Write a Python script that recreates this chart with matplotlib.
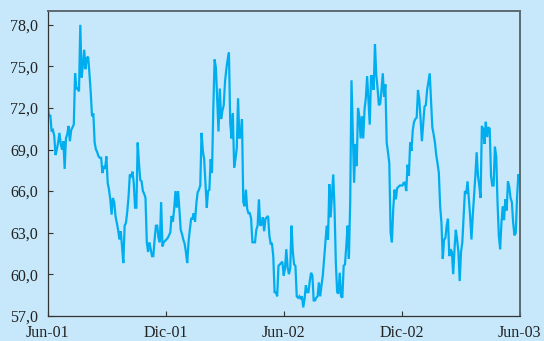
import matplotlib.pyplot as plt
import pandas as pd

plt.rcParams['font.family'] = ['Liberation Serif', 'DejaVu Serif']

inicio = "2001-06-01"
fin = "2003-06-01"
tick_fechas = ["2001-06-01", "2001-12-01", "2002-06-01", "2002-12-01", "2003-06-01"]
tick_labels = ["Jun-01", "Dic-01", "Jun-02", "Dic-02", "Jun-03"]
y_ticks = [57, 60, 63, 66, 69, 72, 75, 78]

# valores, espaciados de forma regular entre inicio y fin
valores = [
    72.1, 71.4, 71.5, 70.3, 70.4, 70.0, 68.6, 69.0, 69.5, 70.2, 69.4, 69.0,
    69.6, 67.6, 69.8, 70.1, 70.7, 69.6, 70.4, 70.6, 70.8, 74.5, 73.4, 73.4,
    73.2, 78.0, 74.2, 75.1, 76.2, 74.8, 75.6, 75.7, 74.5, 73.1, 71.4, 71.6,
    69.5, 69.0, 68.8, 68.5, 68.4, 68.4, 67.3, 67.8, 67.6, 68.5, 66.6, 66.1,
    65.4, 64.3, 65.5, 65.2, 64.2, 63.7, 63.2, 62.5, 63.1, 62.0, 60.8, 63.5,
    63.7, 64.5, 65.6,
    67.2, 67.0, 67.4, 66.6, 64.8, 64.8, 69.5, 68.0, 66.8, 66.7, 66.0, 65.8,
    65.5, 62.3, 61.6, 62.3, 61.8, 61.3, 61.3, 62.5, 63.5, 63.5, 62.6, 62.3,
    65.2, 62.0, 62.3, 62.4, 62.5, 62.6, 62.8, 63.0, 64.2, 63.8, 64.7, 66.0,
    64.8, 66.0, 64.7, 63.2, 62.9, 62.5, 62.2, 61.6, 60.8, 62.3, 63.2, 64.0,
    64.0, 64.4, 63.8, 65.1, 65.9, 66.1, 66.4, 70.2, 68.9, 68.3, 66.6, 64.8,
    66.0,
    66.1, 68.3, 67.3, 71.9, 75.5, 74.9, 72.6, 70.3, 73.4, 71.2, 71.8, 72.2,
    73.9, 74.8, 75.5, 76.0, 70.9, 69.8, 71.6, 67.7, 68.3, 69.1, 72.7, 69.8,
    70.0, 71.2, 65.2, 64.9, 66.1, 64.7, 64.4, 64.4, 64.0, 62.3, 62.3, 62.3,
    63.2, 63.5, 65.4, 63.5, 63.6, 64.1, 63.1, 64.0, 64.1, 64.2, 62.8, 62.2,
    62.2, 61.3, 58.7, 58.7, 58.4, 60.6, 60.7, 60.8, 60.9, 59.9, 60.4, 61.8,
    60.5,
    60.0, 60.4, 63.5, 61.6, 60.7, 60.6, 58.4, 58.3, 58.4, 58.2, 58.4, 57.6,
    58.2, 59.2, 58.7, 58.7, 59.5, 60.1, 59.9, 58.1, 58.1, 58.3, 58.4, 59.4,
    58.4, 59.2, 59.9, 61.1, 62.3, 63.5, 62.5, 66.5, 64.1, 65.6, 67.2, 64.7,
    60.8, 58.7, 58.6, 60.1, 58.4, 58.3, 60.6, 60.7, 62.0, 63.5, 61.1, 65.2,
    74.0, 70.2, 66.6, 69.4, 67.8, 72.0, 71.4, 69.8, 71.4, 69.8, 71.9, 72.7,
    74.3, 72.6, 70.8, 74.3, 74.3, 73.3, 76.6, 74.4, 73.4, 72.2, 72.3, 73.3,
    74.5, 72.8, 73.7, 69.5, 68.8, 68.0, 63.0, 62.3, 64.7, 66.1, 65.4, 66.2,
    66.3, 66.4, 66.4, 66.4, 66.6, 66.6, 66.0, 67.9, 67.1, 69.5, 68.9, 70.4,
    71.0, 71.2, 71.3, 73.3, 72.6, 71.2, 69.6, 70.9, 72.1, 72.2, 73.3, 73.9,
    74.5, 72.5, 70.6, 70.1, 69.5, 68.6, 68.0, 67.3, 64.9, 63.7, 61.1, 62.5,
    62.6, 63.5, 64.0,
    61.3, 61.8, 61.6, 60.0, 61.8, 63.2, 62.5, 61.6, 59.5, 61.6, 62.3, 64.2,
    66.0, 65.8, 66.7, 65.5, 64.2, 62.5, 64.2, 65.6, 67.1, 68.8, 67.1, 66.4,
    65.5, 70.7, 70.5, 69.4, 71.0, 69.9, 70.6, 70.5, 67.1, 66.4, 66.4, 69.2,
    68.5, 65.2, 62.8, 61.8, 63.7, 64.9, 63.9, 65.4, 64.6, 66.7, 66.3, 65.5,
    65.2, 63.7, 62.8, 63.0, 65.6, 67.2, 66.7,
]

fechas = pd.date_range(inicio, fin, periods=len(valores))

fondo = "#C6E8FA"
fig = plt.figure(figsize=(5.44, 3.41), dpi=100, facecolor=fondo)
ax = fig.add_axes([0.0877, 0.0742, 0.8676, 0.8935], facecolor=fondo)

ax.plot(fechas, valores, color="#00AEEF", lw=1.6, solid_joinstyle="miter")

ax.set_xlim(pd.Timestamp(inicio), pd.Timestamp(fin))
ax.set_ylim(57, 79)
ax.set_xticks(pd.to_datetime(tick_fechas))
ax.set_xticklabels(tick_labels)
ax.set_yticks(y_ticks)
ax.set_yticklabels([f"{v:.1f}".replace(".", ",") for v in y_ticks])

ax.tick_params(direction="in", length=3.5, width=0.8, color="#333333",
               labelsize=11.5, labelcolor="#222222")
ax.tick_params(axis="y", pad=7)
ax.tick_params(axis="x", pad=7)

for lado in ["left", "bottom"]:
    ax.spines[lado].set_color("#333333")
    ax.spines[lado].set_linewidth(0.9)
for lado in ["top", "right"]:
    ax.spines[lado].set_color("#5E6A72")
    ax.spines[lado].set_linewidth(1.4)

fig.savefig("out.png", dpi=100, facecolor=fondo)
